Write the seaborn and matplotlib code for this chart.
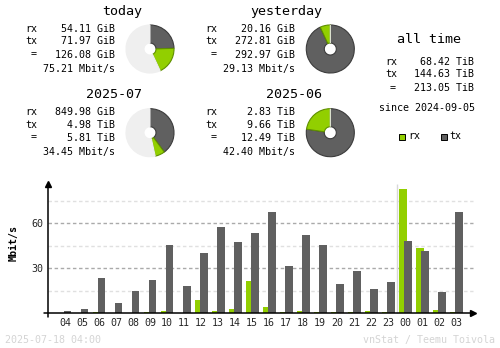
import numpy as np
import pandas as pd
import matplotlib
matplotlib.use("Agg")
import matplotlib.pyplot as plt
from matplotlib.patches import Rectangle
import seaborn as sns

# ---------------- data ----------------
hours = ["04", "05", "06", "07", "08", "09", "10", "11", "12", "13", "14", "15",
         "16", "17", "18", "19", "20", "21", "22", "23", "00", "01", "02", "03"]
rx_rate = [0, 0, 0.9, 0, 0, 0.9, 1.6, 0, 8.9, 1.6, 2.9, 21.6,
           4.2, 0.9, 1.6, 0.9, 0.9, 0.9, 1.6, 0.9, 82.9, 43.6, 2.2, 0.9]
tx_rate = [1.6, 2.9, 23.6, 6.9, 14.9, 22.2, 45.6, 18.2, 40.2, 57.6, 47.6, 53.6,
           67.6, 31.6, 52.2, 45.6, 19.6, 28.2, 16.2, 20.9, 48.2, 41.6, 14.2, 67.6]
y_ticks = [30, 60]
y_minor = [15, 45, 75]
day_boundary = 19.5

today_vals = [54.11, 71.97, 126.08]          # GiB
today_text = ["54.11 GiB", "71.97 GiB", "126.08 GiB", "75.21 Mbit/s"]
yday_vals = [20.16, 272.81, 292.97]          # GiB
yday_text = ["20.16 GiB", "272.81 GiB", "292.97 GiB", "29.13 Mbit/s"]
month_vals = [849.98 / 1024, 4.98, 5.81]     # TiB
month_text = ["849.98 GiB", "4.98 TiB", "5.81 TiB", "34.45 Mbit/s"]
prev_vals = [2.83, 9.66, 12.49]              # TiB
prev_text = ["2.83 TiB", "9.66 TiB", "12.49 TiB", "42.40 Mbit/s"]
all_text = ["68.42 TiB", "144.63 TiB", "213.05 TiB"]
titles = ["today", "yesterday", "2025-07", "2025-06", "all time"]
since_text = "since 2024-09-05"
footer_left = "2025-07-18 04:00"
footer_right = "vnStat / Teemu Toivola"

RX = "#92cf00"
TX = "#606060"
RX_EDGE = "#5f8f00"
TX_EDGE = "#3c3c3c"
REST = "#efefef"

W, H = 500, 348
sns.set_theme(style="white")
plt.rcParams["font.family"] = ["DejaVu Sans Mono", "DejaVu Sans"]
fig = plt.figure(figsize=(W / 100, H / 100), dpi=100)
fig.patch.set_facecolor("white")

def fx(px):
    return px / W

def fy(py):
    return 1 - py / H

SMALL = 7.2
BIG = 9.6

def txt(x, y, s, ha="left", size=SMALL, **kw):
    fig.text(fx(x), fy(y), s, ha=ha, va="center", fontsize=size, color="black", **kw)

# ---------------- summary blocks ----------------
def block(lx, rx_right, title_right, ty, rows_y, texts):
    txt(title_right, ty, texts[0], ha="right", size=BIG)
    txt(lx, rows_y[0], "rx")
    txt(lx, rows_y[1], "tx")
    txt(lx + 9, rows_y[2], "=", ha="center")
    for i in range(3):
        txt(rx_right, rows_y[i], texts[1][i], ha="right")
    txt(rx_right, rows_y[3], texts[1][3], ha="right")

top_rows = [29.5, 41.5, 54.5, 69]
bot_rows = [112, 124.5, 137.5, 152]
block(25, 115, 142, 12, top_rows, (titles[0], today_text))
block(205, 295, 322, 12, top_rows, (titles[1], yday_text))
block(25, 115, 142, 94.5, bot_rows, (titles[2], month_text))
block(205, 295, 322, 94.5, bot_rows, (titles[3], prev_text))

# all time
txt(429, 39.5, titles[4], ha="center", size=BIG)
txt(385, 62, "rx")
txt(385, 74, "tx")
txt(393, 88, "=", ha="center")
for y, s in zip([62, 74, 88], all_text):
    txt(474.5, y, s, ha="right")
txt(427, 108, since_text, ha="center")

# legend
for x0, col, ec, lab, lx in [(398.5, RX, "#000000", "rx", 408), (440.5, TX, "#000000", "tx", 449)]:
    fig.add_artist(Rectangle((fx(x0), fy(139.5)), 6 / W, 6 / H, transform=fig.transFigure,
                             facecolor=col, edgecolor=ec, linewidth=0.7))
    txt(lx, 136, lab)

# ---------------- pies ----------------
def pie(cx, cy, vals, ref_total):
    r = 24.5
    ax = fig.add_axes([fx(cx - r), fy(cy + r), 2 * r / W, 2 * r / H])
    rx_v, tx_v, tot = vals
    rest = max(ref_total - tot, 0)
    wedges, _ = ax.pie([tx_v, rx_v, rest], colors=[TX, RX, REST], startangle=90,
                       counterclock=False, radius=1,
                       wedgeprops=dict(width=0.75, linewidth=0.8))
    wedges[0].set_edgecolor(TX_EDGE)
    wedges[1].set_edgecolor(RX_EDGE)
    wedges[2].set_edgecolor(REST)
    ax.set_xlim(-1.02, 1.02)
    ax.set_ylim(-1.02, 1.02)
    ax.set_axis_off()

ref_day = max(today_vals[2], yday_vals[2])
ref_month = max(month_vals[2], prev_vals[2])
pie(150, 49, today_vals, ref_day)
pie(330.3, 49, yday_vals, ref_day)
pie(150, 132.7, month_vals, ref_month)
pie(330.3, 132.7, prev_vals, ref_month)

# ---------------- hourly bar chart ----------------
left_px, right_px = 48, 476.7
top_px, bot_px = 181.3, 317.8
ax = fig.add_axes([fx(left_px), fy(bot_px), (right_px - left_px) / W, (bot_px - top_px) / H])
ax.set_facecolor("white")

df = pd.DataFrame({
    "hour": hours * 2,
    "dir": ["rx"] * len(hours) + ["tx"] * len(hours),
    "rate": rx_rate + tx_rate,
})
sns.barplot(data=df, x="hour", y="rate", hue="dir", order=hours, hue_order=["rx", "tx"],
            palette={"rx": RX, "tx": TX}, width=0.58, gap=-0.6, saturation=1,
            linewidth=0, legend=False, ax=ax, zorder=3)

ax.set_xlim(-1, 24.2)
ax.set_ylim(-3, 88)
for s in ax.spines.values():
    s.set_visible(False)
ax.grid(False)

ax.hlines(y_minor, -1, 24, colors="#e0e0e0", linewidth=1.0, linestyles=(0, (2.5, 1.9)), zorder=1)
ax.hlines(y_ticks, -1, 24, colors="#aaaaaa", linewidth=1.0, linestyles=(0, (2.5, 1.9)), zorder=1)
ax.vlines([day_boundary], 0, 86, colors="#d8d8d8", linewidth=1.0, zorder=2)

# axes lines with arrows
ax.plot([-1, -1], [-2.5, 86.5], color="black", linewidth=1.1, zorder=5, clip_on=False)
ax.plot([-1], [86.5], marker="^", color="black", markersize=4, zorder=5, clip_on=False)
ax.plot([-1.22, 24.0], [0, 0], color="black", linewidth=1.1, zorder=5, clip_on=False)
ax.plot([24.0], [0], marker=">", color="black", markersize=4, zorder=5, clip_on=False)

ax.set_yticks(y_ticks)
ax.set_yticklabels([str(v) for v in y_ticks], fontsize=SMALL)
ax.tick_params(axis="y", length=0, pad=3.6)
ax.set_xticks(range(len(hours)))
ax.set_xticklabels(hours, fontsize=SMALL)
ax.tick_params(axis="x", length=0, pad=0.3)
ax.set_xlabel("")
ax.set_ylabel("")

fig.text(fx(14), fy(243), "Mbit/s", rotation=90, ha="center", va="center",
         fontsize=SMALL, fontweight="bold", color="black")

# footer
fig.text(fx(5), fy(340), footer_left, ha="left", va="center", fontsize=SMALL, color="#d4d4d4")
fig.text(fx(495), fy(340), footer_right, ha="right", va="center", fontsize=SMALL, color="#d4d4d4")

fig.savefig("out.png", dpi=100, facecolor="white")
